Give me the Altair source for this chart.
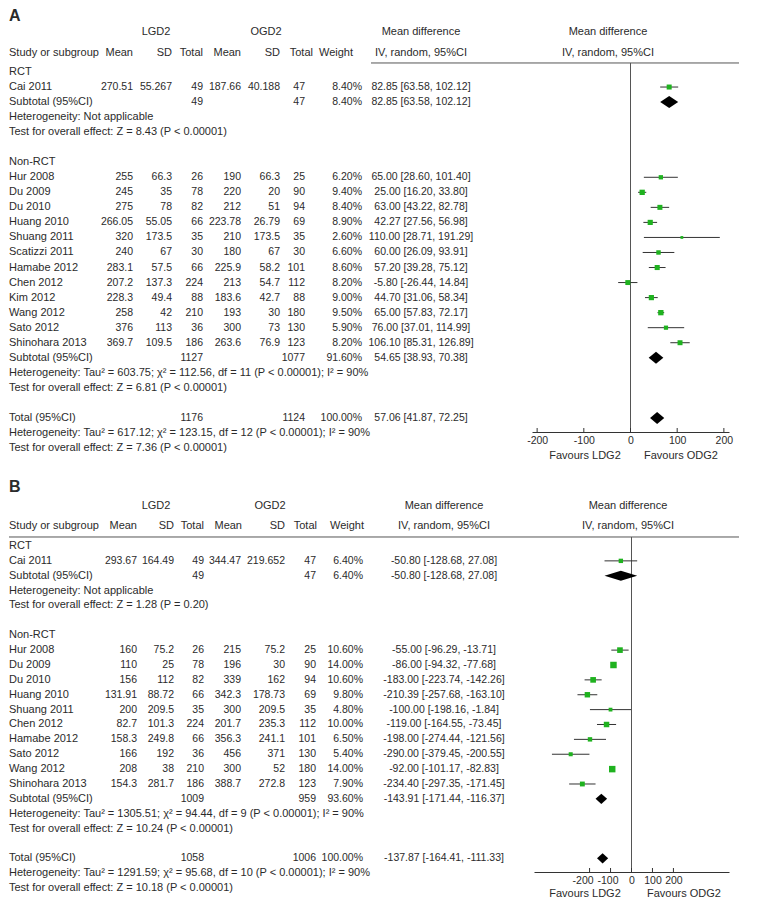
import altair as alt
import pandas as pd

FONT = "Liberation Sans"
FS = 10.5      # numbers
FT = 11        # words
TXT = "#2b2b2b"
LINE = "#555555"
GREEN = "#1fb21f"

# ---------------- Panel A data ----------------
a_labels = ["Cai 2011", "Hur 2008", "Du 2009", "Du 2010", "Huang 2010", "Shuang 2011",
            "Scatizzi 2011", "Hamabe 2012", "Chen 2012", "Kim 2012", "Wang 2012",
            "Sato 2012", "Shinohara 2013"]
a_rows = [1, 7, 8, 9, 10, 11, 12, 13, 14, 15, 16, 17, 18]
a_lgd_mean = ["270.51", "255", "245", "275", "266.05", "320", "240", "283.1", "207.2", "228.3", "258", "376", "369.7"]
a_lgd_sd = ["55.267", "66.3", "35", "78", "55.05", "173.5", "67", "57.5", "137.3", "49.4", "42", "113", "109.5"]
a_lgd_n = ["49", "26", "78", "82", "66", "35", "30", "66", "224", "88", "210", "36", "186"]
a_ogd_mean = ["187.66", "190", "220", "212", "223.78", "210", "180", "225.9", "213", "183.6", "193", "300", "263.6"]
a_ogd_sd = ["40.188", "66.3", "20", "51", "26.79", "173.5", "67", "58.2", "54.7", "42.7", "30", "73", "76.9"]
a_ogd_n = ["47", "25", "90", "94", "69", "35", "30", "101", "112", "88", "180", "130", "123"]
a_weight = [8.4, 6.2, 9.4, 8.4, 8.9, 2.6, 6.6, 8.6, 8.2, 9.0, 9.5, 5.9, 8.2]
a_md = [82.85, 65.00, 25.00, 63.00, 42.27, 110.00, 60.00, 57.20, -5.80, 44.70, 65.00, 76.00, 106.10]
a_lo = [63.58, 28.60, 16.20, 43.22, 27.56, 28.71, 26.09, 39.28, -26.44, 31.06, 57.83, 37.01, 85.31]
a_hi = [102.12, 101.40, 33.80, 82.78, 56.98, 191.29, 93.91, 75.12, 14.84, 58.34, 72.17, 114.99, 126.89]

a_sum_labels = ["Subtotal (95%CI)", "Subtotal (95%CI)", "Total (95%CI)"]
a_sum_rows = [2, 19, 23]
a_sum_lgd_n = ["49", "1127", "1176"]
a_sum_ogd_n = ["47", "1077", "1124"]
a_sum_weight = [8.4, 91.6, 100.0]
a_sum_md = [82.85, 54.65, 57.06]
a_sum_lo = [63.58, 38.93, 41.87]
a_sum_hi = [102.12, 70.38, 72.25]

a_note_rows = [0, 3, 4, 6, 20, 21, 24, 25]
a_notes = ["RCT", "Heterogeneity: Not applicable",
           "Test for overall effect: Z = 8.43 (P < 0.00001)", "Non-RCT",
           "Heterogeneity: Tau² = 603.75; χ² = 112.56, df = 11 (P < 0.00001); I² = 90%",
           "Test for overall effect: Z = 6.81 (P < 0.00001)",
           "Heterogeneity: Tau² = 617.12; χ² = 123.15, df = 12 (P < 0.00001); I² = 90%",
           "Test for overall effect: Z = 7.36 (P < 0.00001)"]

# ---------------- Panel B data ----------------
b_labels = ["Cai 2011", "Hur 2008", "Du 2009", "Du 2010", "Huang 2010", "Shuang 2011",
            "Chen 2012", "Hamabe 2012", "Sato 2012", "Wang 2012", "Shinohara 2013"]
b_rows = [1, 7, 8, 9, 10, 11, 12, 13, 14, 15, 16]
b_lgd_mean = ["293.67", "160", "110", "156", "131.91", "200", "82.7", "158.3", "166", "208", "154.3"]
b_lgd_sd = ["164.49", "75.2", "25", "112", "88.72", "209.5", "101.3", "249.8", "192", "38", "281.7"]
b_lgd_n = ["49", "26", "78", "82", "66", "35", "224", "66", "36", "210", "186"]
b_ogd_mean = ["344.47", "215", "196", "339", "342.3", "300", "201.7", "356.3", "456", "300", "388.7"]
b_ogd_sd = ["219.652", "75.2", "30", "162", "178.73", "209.5", "235.3", "241.1", "371", "52", "272.8"]
b_ogd_n = ["47", "25", "90", "94", "69", "35", "112", "101", "130", "180", "123"]
b_weight = [6.4, 10.6, 14.0, 10.6, 9.8, 4.8, 10.0, 6.5, 5.4, 14.0, 7.9]
b_md = [-50.80, -55.00, -86.00, -183.00, -210.39, -100.00, -119.00, -198.00, -290.00, -92.00, -234.40]
b_lo = [-128.68, -96.29, -94.32, -223.74, -257.68, -198.16, -164.55, -274.44, -379.45, -101.17, -297.35]
b_hi = [27.08, -13.71, -77.68, -142.26, -163.10, -1.84, -73.45, -121.56, -200.55, -82.83, -171.45]

b_sum_labels = ["Subtotal (95%CI)", "Subtotal (95%CI)", "Total (95%CI)"]
b_sum_rows = [2, 17, 21]
b_sum_lgd_n = ["49", "1009", "1058"]
b_sum_ogd_n = ["47", "959", "1006"]
b_sum_weight = [6.4, 93.6, 100.0]
b_sum_md = [-50.80, -143.91, -137.87]
b_sum_lo = [-128.68, -171.44, -164.41]
b_sum_hi = [27.08, -116.37, -111.33]

b_note_rows = [0, 3, 4, 6, 18, 19, 22, 23]
b_notes = ["RCT", "Heterogeneity: Not applicable",
           "Test for overall effect: Z = 1.28 (P = 0.20)", "Non-RCT",
           "Heterogeneity: Tau² = 1305.51; χ² = 94.44, df = 9 (P < 0.00001); I² = 90%",
           "Test for overall effect: Z = 10.24 (P < 0.00001)",
           "Heterogeneity: Tau² = 1291.59; χ² = 95.68, df = 10 (P < 0.00001); I² = 90%",
           "Test for overall effect: Z = 10.18 (P < 0.00001)"]

tick_values = [-200, -100, 0, 100, 200]


def fmt_md(m, l, h):
    return f"{m:.2f} [{l:.2f}, {h:.2f}]"


def build_tables(labels, rows, m1, s1, n1, m2, s2, n2, w, md, lo, hi,
                 slabels, srows, sn1, sn2, sw, smd, slo, shi):
    tab = pd.DataFrame({
        "r": rows + srows,
        "label": labels + slabels,
        "m1": m1 + [""] * len(srows),
        "s1": s1 + [""] * len(srows),
        "n1": n1 + sn1,
        "m2": m2 + [""] * len(srows),
        "s2": s2 + [""] * len(srows),
        "n2": n2 + sn2,
        "w": [f"{v:.2f}%" for v in w + sw],
        "mdtxt": [fmt_md(a, b, c) for a, b, c in zip(md + smd, lo + slo, hi + shi)],
    })
    forest = pd.DataFrame({"r": rows, "md": md, "lo": lo, "hi": hi, "w": w})
    summ = pd.DataFrame({"r": srows, "md": smd, "lo": slo, "hi": shi})
    return tab, forest, summ


def diamonds(summ, half):
    recs = []
    for i, row in summ.iterrows():
        recs.append({"id": i, "x": row.lo, "yt": row.r, "yb": row.r})
        recs.append({"id": i, "x": row.md, "yt": row.r - half, "yb": row.r + half})
        recs.append({"id": i, "x": row.hi, "yt": row.r, "yb": row.r})
    return pd.DataFrame(recs)


def panel(tab, notes_rows, notes, forest, summ, L):
    H = L["H"]
    ysc = alt.Scale(domain=[L["rtop"], L["rbot"]], reverse=True, nice=False, zero=False)
    xsc = alt.Scale(domain=L["xdom"], range=L["xrange"], nice=False, zero=False)
    XAX = alt.Axis(values=tick_values, ticks=False, grid=False, title=None,
                   domainColor="#333333", labelFont=FONT, labelFontSize=FS,
                   labelColor=TXT, labelPadding=L["lpad"], labelOverlap=False,
                   labelFlush=False, labelExpr="'' + datum.value",
                   labelOffset=L["loff"])

    def Y(f):
        return alt.Y(f, type="quantitative", scale=ysc, axis=None)

    def tx(fq):
        return alt.X(fq, type="quantitative", scale=xsc, axis=XAX)

    layers = []
    zero = pd.DataFrame({"x": [0], "y1": [L["rline"]], "y2": [L["rbot"]]})
    layers.append(alt.Chart(zero).mark_rule(color=LINE, strokeWidth=1).encode(
        x=tx("x"), y=Y("y1"), y2="y2:Q"))
    hl = pd.DataFrame({"y": [L["rline"]]})
    layers.append(alt.Chart(hl).mark_rule(color=LINE, strokeWidth=1).encode(
        x=alt.value(L["hline_x0"]), x2=alt.value(730), y=Y("y")))
    tk = pd.DataFrame({"t": tick_values})
    layers.append(alt.Chart(tk).mark_rule(color="#333333", strokeWidth=1).encode(
        x=tx("t"), y=alt.value(H - 4), y2=alt.value(H)))
    layers.append(alt.Chart(forest).mark_rule(color="#333333", strokeWidth=1).encode(
        x=tx("lo"), x2="hi:Q", y=Y("r")))
    layers.append(alt.Chart(forest).mark_square(color=GREEN, opacity=1).encode(
        x=tx("md"), y=Y("r"),
        size=alt.Size("w:Q", scale=alt.Scale(domain=[0, 100], range=[0, 300]), legend=None)))
    dia = diamonds(summ, L["half"])
    layers.append(alt.Chart(dia).mark_area(color="black", orient="vertical", opacity=1).encode(
        x=tx("x"), y=Y("yt"), y2="yb:Q", detail="id:N"))

    base = alt.Chart(tab)
    for field, xpos, align in L["cols"]:
        size = FT if field == "label" else FS
        layers.append(base.mark_text(align=align, baseline="middle", font=FONT,
                                     fontSize=size, color=TXT).encode(
            x=alt.value(xpos), y=Y("r"), text=f"{field}:N"))
    nd = pd.DataFrame({"r": notes_rows, "t": notes})
    layers.append(alt.Chart(nd).mark_text(align="left", baseline="middle", font=FONT,
                                          fontSize=FT, color=TXT).encode(
        x=alt.value(0), y=Y("r"), text="t:N"))

    for text, xpos, r, align, bold, size in L["heads"]:
        hd = pd.DataFrame({"r": [r], "t": [text]})
        layers.append(alt.Chart(hd).mark_text(
            align=align, baseline="middle", font=FONT, fontSize=size, color=TXT,
            fontWeight="bold" if bold else "normal").encode(
            x=alt.value(xpos), y=Y("r"), text="t:N"))

    return alt.layer(*layers).properties(width=740, height=H)


tabA, forA, sumA = build_tables(a_labels, a_rows, a_lgd_mean, a_lgd_sd, a_lgd_n, a_ogd_mean,
                                a_ogd_sd, a_ogd_n, a_weight, a_md, a_lo, a_hi,
                                a_sum_labels, a_sum_rows, a_sum_lgd_n, a_sum_ogd_n,
                                a_sum_weight, a_sum_md, a_sum_lo, a_sum_hi)
tabB, forB, sumB = build_tables(b_labels, b_rows, b_lgd_mean, b_lgd_sd, b_lgd_n, b_ogd_mean,
                                b_ogd_sd, b_ogd_n, b_weight, b_md, b_lo, b_hi,
                                b_sum_labels, b_sum_rows, b_sum_lgd_n, b_sum_ogd_n,
                                b_sum_weight, b_sum_md, b_sum_lo, b_sum_hi)


def heads(letter, r_letter, r_top, r_col, r_fav, c):
    return [(letter, 0, r_letter, "left", True, 16),
            ("LGD2", c["lgd"], r_top, "center", False, FT),
            ("OGD2", c["ogd"], r_top, "center", False, FT),
            ("Mean difference", c["md"], r_top, "center", False, FT),
            ("Mean difference", c["fp"], r_top, "center", False, FT),
            ("Study or subgroup", 0, r_col, "left", False, FT),
            ("Mean", c["m1"], r_col, "right", False, FT),
            ("SD", c["s1"], r_col, "right", False, FT),
            ("Total", c["n1"], r_col, "right", False, FT),
            ("Mean", c["m2"], r_col, "right", False, FT),
            ("SD", c["s2"], r_col, "right", False, FT),
            ("Total", c["n2"], r_col, "right", False, FT),
            ("Weight", c["w"], r_col, c["walign"], False, FT),
            ("IV, random, 95%CI", c["md"], r_col, "center", False, FT),
            ("IV, random, 95%CI", c["fp"], r_col, "center", False, FT),
            ("Favours LDG2", c["fav1"], r_fav, "center", False, FT),
            ("Favours ODG2", c["fav2"], r_fav, "center", False, FT)]


LA = {
    "H": 421, "rtop": -4.056, "rbot": 23.936, "rline": -0.6,
    "xdom": [-211, 211], "xrange": [523, 720], "lpad": 3, "half": 0.4,
    "hline_x0": 362, "loff": 0,
    "cols": [("label", 0, "left"), ("m1", 124, "right"), ("s1", 163, "right"),
             ("n1", 194, "right"), ("m2", 232, "right"), ("s2", 271, "right"),
             ("n2", 296, "right"), ("w", 353, "right"), ("mdtxt", 412, "center")],
    "heads": heads("A", -3.72, -2.66, -1.263, 25.53,
                   {"lgd": 147, "ogd": 257, "md": 412, "fp": 599, "m1": 124, "s1": 163,
                    "n1": 194, "m2": 232, "s2": 271, "n2": 304, "w": 327, "walign": "center",
                    "fav1": 576, "fav2": 672}),
}

LB = {
    "H": 393, "rtop": -4.504, "rbot": 21.916, "rline": -0.605,
    "xdom": [-465, 465], "xrange": [525, 720], "lpad": 3, "half": 0.34,
    "hline_x0": 0,
    "loff": {"condition": [{"test": "datum.value == -200", "value": -7},
                           {"test": "datum.value == -100", "value": -3}], "value": 0},
    "cols": [("label", 0, "left"), ("m1", 128, "right"), ("s1", 165, "right"),
             ("n1", 195, "right"), ("m2", 232, "right"), ("s2", 276, "right"),
             ("n2", 307, "right"), ("w", 354, "right"), ("mdtxt", 435, "center")],
    "heads": heads("B", -3.97, -2.69, -1.345, 23.39,
                   {"lgd": 147, "ogd": 261, "md": 435, "fp": 619, "m1": 128, "s1": 165,
                    "n1": 195, "m2": 233, "s2": 276, "n2": 308, "w": 355, "walign": "right",
                    "fav1": 576, "fav2": 675}),
}

pA = panel(tabA, a_note_rows, a_notes, forA, sumA, LA)
pB = panel(tabB, b_note_rows, b_notes, forB, sumB, LB)

chart = alt.vconcat(pA, pB, spacing=47).resolve_scale(
    x="independent", y="independent", size="independent"
).properties(padding=0, bounds="flush").configure_view(stroke=None)

chart.save("out.html", embed_options={"renderer": "svg", "actions": False})
